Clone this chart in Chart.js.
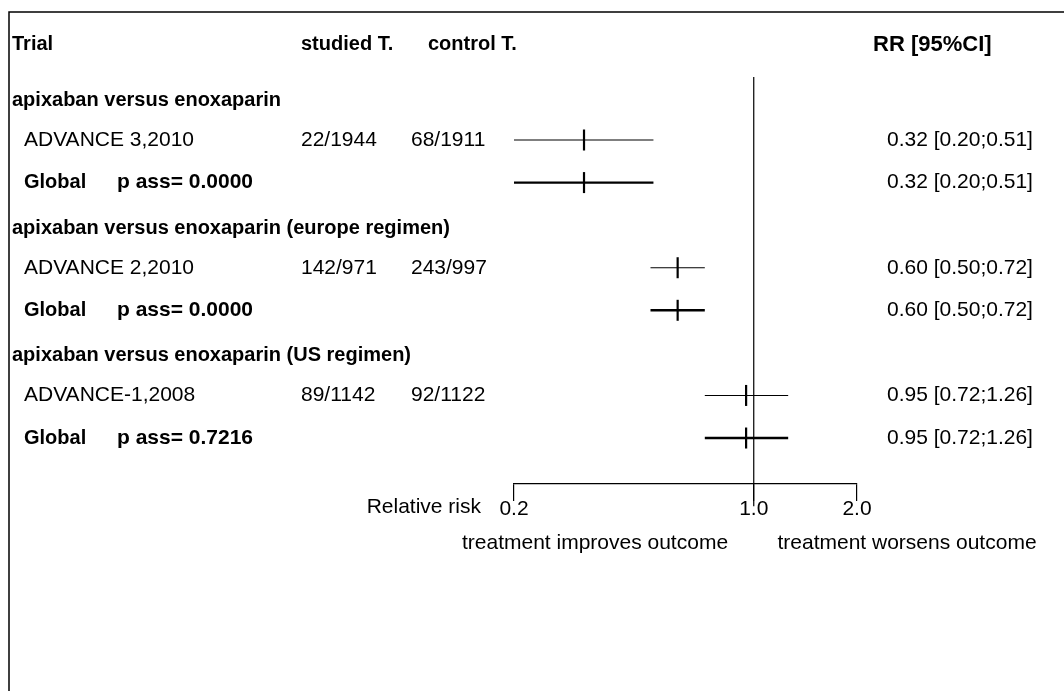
<!DOCTYPE html>
<html>
<head>
<meta charset="utf-8">
<script src="https://cdn.jsdelivr.net/npm/chart.js@4.4.0/dist/chart.umd.min.js"></script>
<style>
  body { margin: 0; background: #fff; }
  #wrap { width: 1064px; height: 691px; }
</style>
</head>
<body>
<div id="wrap"><canvas id="forest" width="1064" height="691"></canvas></div>
<script>
// forest plot data, one entry per comparison
const groups = ['apixaban versus enoxaparin', 'apixaban versus enoxaparin (europe regimen)', 'apixaban versus enoxaparin (US regimen)'];
const trials = ['ADVANCE 3,2010', 'ADVANCE 2,2010', 'ADVANCE-1,2008'];
const studiedT = ['22/1944', '142/971', '89/1142'];
const controlT = ['68/1911', '243/997', '92/1122'];
const rr = [0.32, 0.60, 0.95];
const ciLow = [0.20, 0.50, 0.72];
const ciHigh = [0.51, 0.72, 1.26];
const globalRR = [0.32, 0.60, 0.95];
const globalLow = [0.20, 0.50, 0.72];
const globalHigh = [0.51, 0.72, 1.26];
const pAss = ['0.0000', '0.0000', '0.7216'];
const axisTicks = [0.2, 1.0, 2.0];

const FONT = '"Liberation Sans", Arial, sans-serif';

// row index of each line in the table
function groupRow(g) { return 1 + 3 * g; }
function trialRow(g) { return 2 + 3 * g; }
function globalRow(g) { return 3 + 3 * g; }

function fmt(v) { return v.toFixed(2); }

var datasets = [];
// reference line at RR = 1
datasets.push({
  data: [{x: 1, y: 0.52}, {x: 1, y: 10.6}],
  showLine: true, borderColor: '#000', borderWidth: 1.2, pointRadius: 0, clip: false
});
for (var g = 0; g < groups.length; g++) {
  datasets.push({
    data: [{x: ciLow[g], y: trialRow(g)}, {x: ciHigh[g], y: trialRow(g)}],
    showLine: true, borderColor: '#000', borderWidth: 1.1, pointRadius: 0
  });
  datasets.push({
    data: [{x: globalLow[g], y: globalRow(g)}, {x: globalHigh[g], y: globalRow(g)}],
    showLine: true, borderColor: '#000', borderWidth: 2.4, pointRadius: 0
  });
  datasets.push({
    data: [{x: rr[g], y: trialRow(g)}, {x: globalRR[g], y: globalRow(g)}],
    showLine: false, pointStyle: 'line', rotation: 90, pointRadius: 10.5,
    borderColor: '#000', borderWidth: 2.2, backgroundColor: '#000'
  });
}

const tablePlugin = {
  id: 'table',
  beforeDraw(chart) {
    const c = chart.ctx;
    c.save();
    c.fillStyle = '#fff';
    c.fillRect(0, 0, chart.width, chart.height);
    c.strokeStyle = '#000';
    c.lineWidth = 1.5;
    c.beginPath();
    c.moveTo(9, chart.height);
    c.lineTo(9, 12);
    c.lineTo(chart.width, 12);
    c.stroke();
    c.restore();
  },
  afterDatasetsDraw(chart) {
    const c = chart.ctx;
    const ys = chart.scales.y;
    const bold = 'bold 20px ' + FONT;
    const reg = '21px ' + FONT;
    c.save();
    c.fillStyle = '#000';
    c.textBaseline = 'middle';
    c.textAlign = 'left';

    var hy = ys.getPixelForValue(0) - 10;
    c.font = bold;
    c.fillText('Trial', 12, hy);
    c.fillText('studied T.', 301, hy);
    c.fillText('control T.', 428, hy);
    c.font = 'bold 22px ' + FONT;
    c.fillText('RR [95%CI]', 873, hy);

    for (var g = 0; g < groups.length; g++) {
      c.font = bold;
      c.fillText(groups[g], 12, ys.getPixelForValue(groupRow(g)) + 3);
      var gy = ys.getPixelForValue(globalRow(g));
      c.fillText('Global', 24, gy);
      c.font = 'bold 21px ' + FONT;
      c.fillText('p ass= ' + pAss[g], 117, gy);

      c.font = reg;
      var ty = ys.getPixelForValue(trialRow(g));
      c.fillText(trials[g], 24, ty);
      c.fillText(studiedT[g], 301, ty);
      c.fillText(controlT[g], 411, ty);
      c.fillText(fmt(rr[g]) + ' [' + fmt(ciLow[g]) + ';' + fmt(ciHigh[g]) + ']', 887, ty);
      c.fillText(fmt(globalRR[g]) + ' [' + fmt(globalLow[g]) + ';' + fmt(globalHigh[g]) + ']', 887, gy);
    }

    // axis captions
    c.font = reg;
    c.textAlign = 'right';
    c.fillText('Relative risk', 481, 507);
    c.textAlign = 'center';
    c.fillText('treatment improves outcome', 595, 543);
    c.fillText('treatment worsens outcome', 907, 543);
    c.restore();
  }
};

new Chart(document.getElementById('forest'), {
  type: 'scatter',
  data: { datasets: datasets },
  options: {
    responsive: false,
    animation: false,
    layout: { padding: { left: 514, right: 207, top: 77, bottom: 167 } },
    plugins: { legend: { display: false }, tooltip: { enabled: false } },
    scales: {
      x: {
        type: 'logarithmic',
        min: 0.2,
        max: 2.0,
        afterBuildTicks(scale) {
          scale.ticks = axisTicks.map(v => ({ value: v }));
        },
        afterFit(scale) { scale.height = 40; },
        ticks: {
          autoSkip: false, maxRotation: 0, color: '#000', padding: -4,
          font: { family: FONT, size: 21 },
          callback: (v) => Number(v).toFixed(1)
        },
        grid: { display: true, drawOnChartArea: false, drawTicks: true, tickLength: 17, color: '#000', lineWidth: 1.2 },
        border: { display: true, color: '#000', width: 1.2 }
      },
      y: {
        type: 'linear', display: false, reverse: true, min: 0.52, max: 10.08
      }
    }
  },
  plugins: [tablePlugin]
});
</script>
</body>
</html>
